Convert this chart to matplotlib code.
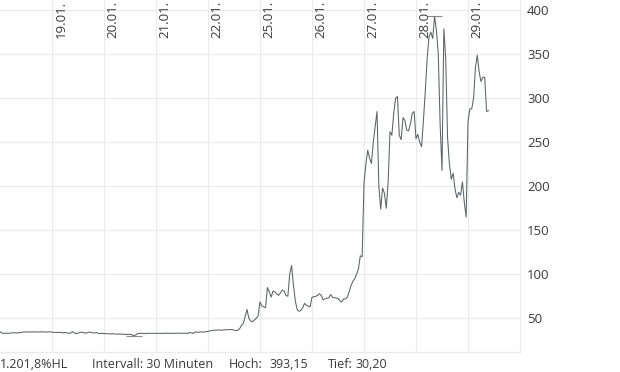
import numpy as np
import matplotlib
matplotlib.use('Agg')
import matplotlib.pyplot as plt

plt.rcParams.update({
    'font.family': ['Open Sans', 'DejaVu Sans'], 'font.size': 9,
    'axes.linewidth': 0.8,
})

C_LINE, C_GRID, C_TEXT, C_MARK = '#5b6267', '#ebebeb', '#3a3a3a', '#8c8c8c'

# 30-minute closes, 28 slots per trading day (08:00-22:00)
day_labels = ['18.01.', '19.01.', '20.01.', '21.01.', '22.01.',
              '25.01.', '26.01.', '27.01.', '28.01.', '29.01.']
d_1801 = [34.8, 33.2, 33.0, 33.0, 33.1, 33.0, 33.5, 33.4, 33.6, 33.3, 33.5, 33.8, 34.2, 34.5,
          34.3, 34.6, 34.5, 34.4, 34.6, 34.5, 34.5, 34.4, 34.6, 34.5, 34.5, 34.5, 34.4, 34.8]
d_1901 = [34.2, 34.0, 33.9, 34.0, 33.9, 34.0, 33.4, 33.8, 33.5, 32.8, 33.2, 34.8, 33.5, 32.6,
          33.2, 33.8, 34.3, 33.6, 33.2, 33.5, 34.4, 34.0, 33.4, 33.5, 33.9, 32.8, 32.7, 32.9]
d_2001 = [32.6, 32.7, 32.4, 32.3, 32.2, 32.5, 32.1, 32.0, 32.2, 31.9, 32.0, 31.8, 31.7, 31.6,
          31.9, 31.3, 30.2, 31.0, 32.5, 32.8, 33.0, 32.7, 32.6, 33.0, 32.9, 32.8, 33.0, 32.9]
d_2101 = [32.9, 33.0, 32.8, 32.9, 33.0, 33.0, 33.1, 32.9, 33.0, 33.0, 32.9, 33.0, 33.1, 33.0,
          32.8, 32.9, 33.2, 32.6, 34.0, 33.5, 32.8, 34.2, 34.5, 34.0, 34.6, 34.4, 34.3, 35.0]
d_2201 = [35.0, 35.6, 36.2, 36.5, 36.3, 36.6, 36.8, 36.4, 36.7, 36.9, 37.0, 37.2, 37.0, 37.3,
          36.5, 36.0, 36.4, 38.0, 42.0, 44.0, 52.0, 60.0, 50.0, 47.0, 46.0, 48.0, 50.0, 53.0]
d_2501 = [68.5, 64.0, 63.0, 62.0, 85.0, 80.0, 74.0, 81.0, 80.0, 78.0, 76.0, 79.0, 82.0, 81.0,
          76.0, 75.0, 100.0, 110.0, 88.0, 70.0, 60.0, 58.0, 59.0, 62.0, 67.0, 64.6, 64.0, 63.0]
d_2601 = [74.0, 74.5, 75.0, 76.0, 78.0, 76.0, 71.0, 72.0, 73.0, 73.0, 77.0, 74.0, 73.5, 73.0,
          72.5, 70.0, 68.5, 72.0, 72.0, 74.0, 80.0, 87.0, 92.0, 95.0, 100.0, 106.0, 121.0, 120.0]
d_2701 = [203, 225, 241, 232, 226, 250, 268, 285, 200, 174, 198, 192, 175, 205,
          262, 258, 283, 300, 302, 258, 253, 278, 275, 264, 263, 271, 283, 285]
d_2801 = [254, 259, 250, 245, 275, 308, 345, 370, 375, 368, 393.15, 377, 350, 270,
          218, 379, 345, 255, 225, 208, 215, 197, 187, 193, 190, 205, 182, 165]
d_2901 = [273, 288, 288, 300, 335, 349, 330, 319, 324, 324, 285, 286]

days = [d_1801, d_1901, d_2001, d_2101, d_2201, d_2501, d_2601, d_2701, d_2801, d_2901]
SLOTS = 28
y_ticks = [50, 100, 150, 200, 250, 300, 350, 400]
info_hl, info_int, info_hoch, info_tief = '1.201,8%HL', 'Intervall: 30 Minuten', '393,15', '30,20'

x = np.concatenate([k + np.arange(len(d)) / SLOTS for k, d in enumerate(days)])
y = np.concatenate([np.asarray(d, float) for d in days])

fig = plt.figure(figsize=(6.2, 3.72), dpi=100)
ax = fig.add_axes([0, 20 / 372, 520 / 620, 352 / 372])

ax.plot(x, y, color=C_LINE, lw=0.75, zorder=3)
# high / low marks
for i in (np.argmax(y), np.argmin(y)):
    ax.hlines(y[i], x[i] - 0.15, x[i] + 0.15, color=C_MARK, lw=0.8, zorder=2)

ax.set_xlim(0, 10)
ax.set_ylim(11.7, 411.7)
ax.set_xticks(np.arange(1, 10))
ax.set_xticklabels([])
ax.set_yticks(y_ticks)
ax.yaxis.tick_right()
ax.tick_params(axis='y', length=0, pad=5, labelsize=9.5, labelcolor=C_TEXT)
ax.tick_params(axis='x', length=0)
ax.grid(True, color=C_GRID, lw=0.9, zorder=0)
for s in ('left', 'top'):
    ax.spines[s].set_visible(False)
for s in ('right', 'bottom'):
    ax.spines[s].set_color(C_GRID)
    ax.spines[s].set_linewidth(0.9)

for k, lab in enumerate(day_labels[1:], start=1):
    ax.text(k + 0.17, 0.997, lab, transform=ax.get_xaxis_transform(), rotation=90,
            ha='center', va='top', fontsize=9.5, color=C_TEXT)

ty = 4.3 / 372
fig.text(0.0, ty, info_hl, fontsize=9, color=C_TEXT, va='baseline')
fig.text(91.7 / 620, ty, info_int, fontsize=9, color=C_TEXT, va='baseline')
fig.text(228.3 / 620, ty, 'Hoch:', fontsize=9, color=C_TEXT, va='baseline')
fig.text(269.3 / 620, ty, info_hoch, fontsize=9, color=C_TEXT, va='baseline')
fig.text(328.3 / 620, ty, 'Tief:', fontsize=9, color=C_TEXT, va='baseline')
fig.text(355 / 620, ty, info_tief, fontsize=9, color=C_TEXT, va='baseline')

fig.savefig('out.png', dpi=100)
